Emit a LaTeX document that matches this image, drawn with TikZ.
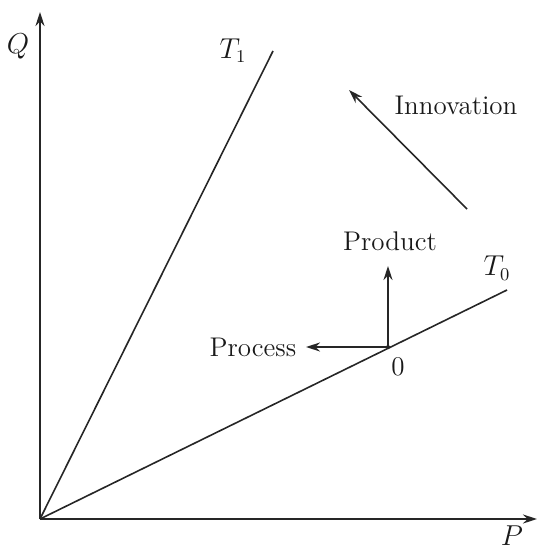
\documentclass[tikz,border=0pt]{standalone}
\usetikzlibrary{arrows.meta}
\begin{document}
\begin{tikzpicture}[x=0.5pt,y=-0.5pt,
  axis/.style={line width=0.9pt,draw=black!85,-{Stealth[length=7pt,width=4.5pt]}},
  ray/.style={line width=0.8pt,draw=black!85},
  dirarrow/.style={line width=0.8pt,draw=black!85,-{Stealth[length=7pt,width=4.5pt]}},
  lab/.style={font=\fontsize{13.5}{16}\selectfont,text=black!90,inner sep=0pt}]
\useasboundingbox (0,0) rectangle (538,549);
\coordinate (O) at (40,519);
\coordinate (Qend) at (40,12);
\coordinate (Pend) at (537,519);
\coordinate (T1end) at (273,51);
\coordinate (T0end) at (507,290);
\coordinate (pt0) at (388,347);
\coordinate (prodEnd) at (388,266);
\coordinate (procEnd) at (306,347);
\coordinate (innS) at (467,209);
\coordinate (innE) at (349,90);
\draw[axis] (O) -- (Qend);
\draw[axis] (O) -- (Pend);
\draw[ray] (O) -- (T1end);
\draw[ray] (O) -- (T0end);
\draw[dirarrow] (pt0) -- (prodEnd);
\draw[dirarrow] (pt0) -- (procEnd);
\draw[dirarrow] (innS) -- (innE);
\fill[black!85] (pt0) circle (2);
\node[lab] (Qlab) at (18,46) {$Q$};
\node[lab] (Plab) at (512,536) {$P$};
\node[lab] (T1lab) at (233,51) {$T_1$};
\node[lab] (T0lab) at (497,268) {$T_0$};
\node[lab] (prodlab) at (390,241) {Product};
\node[lab] (proclab) at (253,347) {Process};
\node[lab] (zerolab) at (398,367) {0};
\node[lab] (innlab) at (456,105) {Innovation};
\end{tikzpicture}
\end{document}
